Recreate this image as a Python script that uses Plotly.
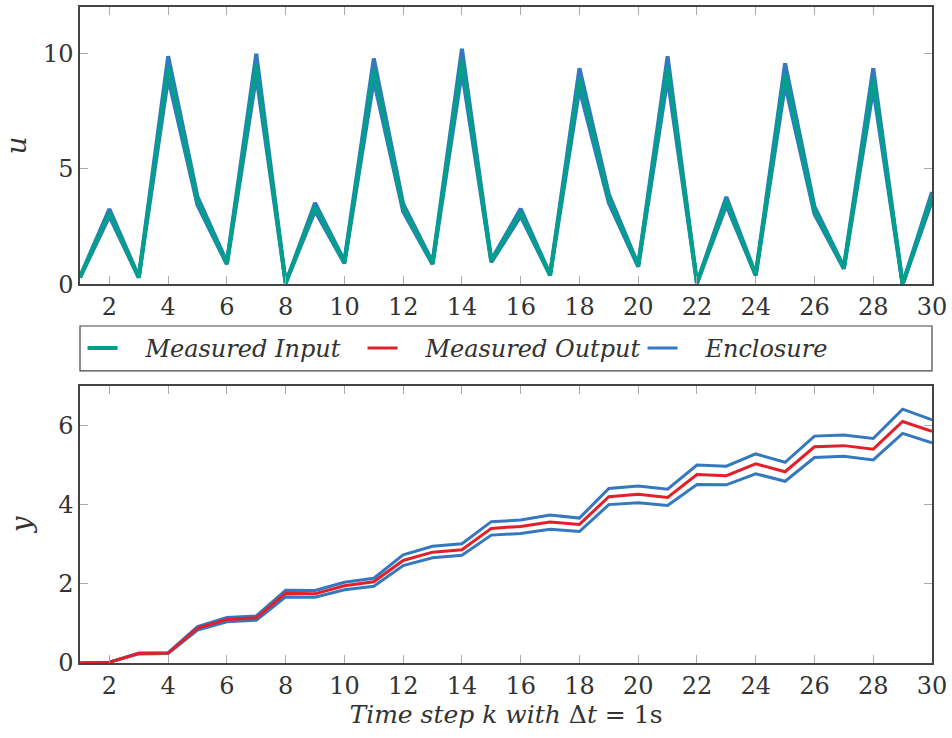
import plotly.graph_objects as go
from plotly.subplots import make_subplots

k = list(range(1, 31))

u_meas = [0.3, 3.1, 0.3, 9.4, 3.6, 0.9, 9.5, 0.05, 3.35, 0.95,
          9.3, 3.3, 0.9, 9.7, 1.0, 3.1, 0.4, 8.9, 3.7, 0.8,
          9.4, 0.05, 3.6, 0.4, 9.1, 3.2, 0.7, 8.9, 0.0, 3.8]
u_upper = [0.32, 3.25, 0.32, 9.87, 3.78, 0.95, 9.98, 0.05, 3.52, 1.0,
           9.77, 3.47, 0.95, 10.19, 1.05, 3.26, 0.42, 9.35, 3.89, 0.84,
           9.87, 0.05, 3.78, 0.42, 9.56, 3.36, 0.74, 9.35, 0.0, 3.99]
u_lower = [0.28, 2.95, 0.28, 8.93, 3.42, 0.86, 9.03, 0.05, 3.18, 0.9,
           8.84, 3.14, 0.86, 9.22, 0.95, 2.95, 0.38, 8.46, 3.52, 0.76,
           8.93, 0.05, 3.42, 0.38, 8.65, 3.04, 0.67, 8.46, 0.0, 3.61]

y_meas = [0.0, 0.02, 0.24, 0.25, 0.88, 1.1, 1.14, 1.76, 1.75, 1.95,
          2.05, 2.59, 2.8, 2.86, 3.4, 3.45, 3.56, 3.5, 4.2, 4.26,
          4.18, 4.76, 4.73, 5.03, 4.83, 5.46, 5.49, 5.4, 6.1, 5.85]
y_upper = [0.0, 0.02, 0.25, 0.26, 0.92, 1.15, 1.19, 1.84, 1.83, 2.04,
           2.14, 2.73, 2.95, 3.01, 3.57, 3.61, 3.74, 3.66, 4.41, 4.47,
           4.39, 5.0, 4.97, 5.28, 5.07, 5.73, 5.76, 5.67, 6.41, 6.14]
y_lower = [0.0, 0.02, 0.23, 0.24, 0.83, 1.04, 1.08, 1.67, 1.66, 1.85,
           1.94, 2.46, 2.66, 2.72, 3.23, 3.27, 3.38, 3.32, 4.0, 4.05,
           3.98, 4.51, 4.5, 4.78, 4.59, 5.19, 5.22, 5.13, 5.8, 5.56]

x_ticks = list(range(2, 31, 2))
u_ticks = [0, 5, 10]
y_ticks = [0, 2, 4, 6]

TEAL = "#00A08A"
RED = "#E3202A"
BLUE = "#3478C0"
FONT = "DejaVu Serif"
PAD = "\u00a0\u00a0\u00a0"

fig = make_subplots(rows=2, cols=1, vertical_spacing=0.155)

fig.add_trace(go.Scatter(x=k, y=u_upper, mode="lines", line=dict(color=BLUE, width=4),
                         name=PAD + "Enclosure", showlegend=False), row=1, col=1)
fig.add_trace(go.Scatter(x=k, y=u_lower, mode="lines", line=dict(color=BLUE, width=4),
                         name=PAD + "Enclosure", showlegend=False), row=1, col=1)
fig.add_trace(go.Scatter(x=k, y=u_meas, mode="lines", line=dict(color=TEAL, width=4),
                         name=PAD + "Measured Input", legendrank=1), row=1, col=1)

fig.add_trace(go.Scatter(x=k, y=y_upper, mode="lines", line=dict(color=BLUE, width=3),
                         name=PAD + "Enclosure", legendrank=3), row=2, col=1)
fig.add_trace(go.Scatter(x=k, y=y_lower, mode="lines", line=dict(color=BLUE, width=3),
                         name=PAD + "Enclosure", showlegend=False), row=2, col=1)
fig.add_trace(go.Scatter(x=k, y=y_meas, mode="lines", line=dict(color=RED, width=3),
                         name=PAD + "Measured Output", legendrank=2), row=2, col=1)

axis_common = dict(showline=True, linecolor="#444", linewidth=1.5, mirror="ticks",
                   ticks="inside", ticklen=8, tickcolor="#aaa", tickwidth=1.2,
                   showgrid=False, zeroline=False,
                   tickfont=dict(family=FONT, size=24, color="#333"))

for r in (1, 2):
    fig.update_xaxes(range=[1, 30], tickvals=x_ticks, row=r, col=1, **axis_common)

fig.update_yaxes(range=[0, 12], tickvals=u_ticks, row=1, col=1,
                 title=dict(text="<i>u</i>", font=dict(family=FONT, size=28, color="#333"), standoff=18),
                 **axis_common)
fig.update_yaxes(range=[0, 7], tickvals=y_ticks, row=2, col=1,
                 title=dict(text="<i>y</i>", font=dict(family=FONT, size=28, color="#333"), standoff=18),
                 **axis_common)
fig.update_xaxes(row=2, col=1,
                 title=dict(text="<i>Time step k with </i>Δ<i>t</i> = 1s",
                            font=dict(family=FONT, size=25, color="#333"), standoff=6))

fig.update_layout(
    xaxis=dict(domain=[0, 1]), xaxis2=dict(domain=[0, 1]),
    yaxis=dict(domain=[0.5775, 1.0]), yaxis2=dict(domain=[0.0, 0.4225]),
)

fig.add_shape(type="rect", xref="paper", yref="paper", x0=0, x1=1, y0=0.4453, y1=0.5137,
              line=dict(color="#444", width=1.2), fillcolor="rgba(0,0,0,0)")

fig.update_layout(
    width=952, height=738,
    margin=dict(l=80, r=20, t=5, b=75),
    font=dict(family=FONT, color="#333"),
    plot_bgcolor="white", paper_bgcolor="white",
    legend=dict(orientation="h", x=0.003, xanchor="left", y=0.4795, yanchor="middle",
                font=dict(family=FONT, size=24, color="#333", style="italic"),
                bgcolor="rgba(0,0,0,0)", borderwidth=0,
                entrywidth=235, entrywidthmode="pixels", itemwidth=30),
)

fig.write_html("out.html")
